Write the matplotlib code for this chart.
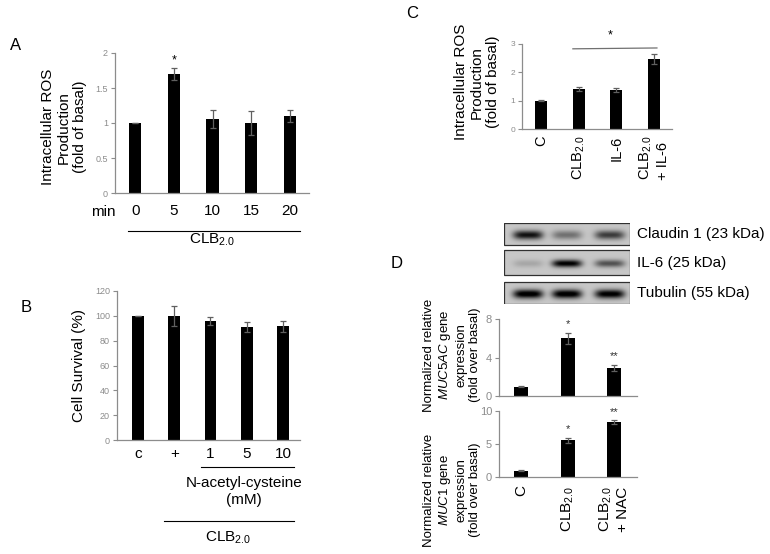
import numpy as np
import matplotlib
matplotlib.use("Agg")
import matplotlib.pyplot as plt
from matplotlib.patches import Rectangle
import matplotlib.transforms as mtrans

plt.rcParams['font.family'] = ['Liberation Sans', 'DejaVu Sans']
plt.rcParams['mathtext.fontset'] = 'custom'
plt.rcParams['mathtext.rm'] = 'Liberation Sans'
plt.rcParams['mathtext.it'] = 'Liberation Sans:italic'
plt.rcParams['mathtext.default'] = 'regular'

# ── データ ──────────────────────────────────────────────
a_labels = ['0', '5', '10', '15', '20']
a_vals = [1.0, 1.70, 1.06, 1.0, 1.10]
a_err = [0.0, 0.08, 0.13, 0.17, 0.08]

b_labels = ['c', '+', '1', '5', '10']
b_vals = [100, 100, 96, 91, 91.5]
b_err = [0, 8, 3, 4, 4.5]

c_labels = ['C', 'CLB$_{2.0}$', 'IL-6', 'CLB$_{2.0}$\n+ IL-6']
c_vals = [1.0, 1.42, 1.37, 2.47]
c_err = [0.01, 0.07, 0.07, 0.17]

d_labels = ['C', 'CLB$_{2.0}$', 'CLB$_{2.0}$\n+ NAC']
muc5ac_vals = [0.95, 6.0, 2.9]
muc5ac_err = [0.05, 0.55, 0.35]
muc5ac_sig = ['', '*', '**']
muc1_vals = [0.95, 5.55, 8.27]
muc1_err = [0.05, 0.4, 0.3]
muc1_sig = ['', '*', '**']

blot_names = ['Claudin 1 (23 kDa)', 'IL-6 (25 kDa)', 'Tubulin (55 kDa)']
blot_bands = [[0.85, 0.40, 0.65],   # Claudin 1
              [0.15, 0.95, 0.55],   # IL-6
              [1.00, 1.00, 0.97]]   # Tubulin

W, H = 770, 554
fig = plt.figure(figsize=(W / 100, H / 100), dpi=100, facecolor='white')

def px_axes(x0, y0, x1, y1):
    return fig.add_axes([x0 / W, 1 - y1 / H, (x1 - x0) / W, (y1 - y0) / H])

def ftext(x, y, s, **kw):
    fig.text(x / W, 1 - y / H, s, **kw)

GRAY = '#8c8c8c'

def style_bar_ax(ax, tick_fs):
    for s in ['top', 'right']:
        ax.spines[s].set_visible(False)
    for s in ['left', 'bottom']:
        ax.spines[s].set_color(GRAY)
        ax.spines[s].set_linewidth(0.9)
    ax.tick_params(axis='y', colors=GRAY, labelsize=tick_fs, length=3, width=0.8, pad=2)
    ax.tick_params(axis='x', length=0)

def bars(ax, vals, err, width):
    x = np.arange(len(vals))
    ax.bar(x, vals, width, color='black', zorder=2)
    ax.errorbar(x, vals, yerr=err, fmt='none', ecolor='#606060',
                elinewidth=0.9, capsize=2.5, capthick=0.9, zorder=3)
    return x

# ── Panel A ─────────────────────────────────────────────
axA = px_axes(115, 53, 309, 193)
x = bars(axA, a_vals, a_err, 0.32)
axA.set_xlim(-0.52, 4.49)
axA.set_ylim(0, 2)
axA.set_yticks([0, 0.5, 1, 1.5, 2])
axA.set_yticklabels(['0', '0.5', '1', '1.5', '2'])
style_bar_ax(axA, 6.5)
axA.set_xticks(x)
axA.set_xticklabels(a_labels, fontsize=11)
axA.tick_params(axis='x', pad=8)
axA.text(1, a_vals[1] + a_err[1] + 0.12, '*', ha='center', va='center', fontsize=9)
axA.set_ylabel('Intracellular ROS\nProduction\n(fold of basal)', fontsize=11)
axA.yaxis.set_label_coords(-0.144, 0.47)
tA = mtrans.blended_transform_factory(axA.transData, axA.transAxes)
axA.plot([-0.18, 4.26], [-0.27, -0.27], color='black', lw=0.8, transform=tA, clip_on=False)
ftext(103, 212, 'min', fontsize=11, ha='center', va='center')
ftext(212, 240, 'CLB$_{2.0}$', fontsize=11, ha='center', va='center')
ftext(16, 46, 'A', fontsize=12, ha='center', va='center')

# ── Panel B ─────────────────────────────────────────────
axB = px_axes(117, 291, 300, 440)
x = bars(axB, b_vals, b_err, 0.33)
axB.set_xlim(-0.58, 4.47)
axB.set_ylim(0, 120)
axB.set_yticks(range(0, 121, 20))
style_bar_ax(axB, 6.5)
axB.set_xticks(x)
axB.set_xticklabels(b_labels, fontsize=11)
axB.tick_params(axis='x', pad=5)
axB.set_ylabel('Cell Survival (%)', fontsize=11)
axB.yaxis.set_label_coords(-0.17, 0.5)
tB = mtrans.blended_transform_factory(axB.transData, axB.transAxes)
axB.plot([1.75, 4.3], [-0.18, -0.18], color='black', lw=0.8, transform=tB, clip_on=False)
axB.plot([0.72, 4.3], [-0.545, -0.545], color='black', lw=0.8, transform=tB, clip_on=False)
ftext(244, 483, 'N-acetyl-cysteine', fontsize=11, ha='center', va='center')
ftext(244, 500, '(mM)', fontsize=11, ha='center', va='center')
ftext(228, 538, 'CLB$_{2.0}$', fontsize=11, ha='center', va='center')
ftext(26, 308, 'B', fontsize=12, ha='center', va='center')

# ── Panel C ─────────────────────────────────────────────
axC = px_axes(522, 44, 672, 129)
x = bars(axC, c_vals, c_err, 0.32)
axC.set_xlim(-0.5, 3.48)
axC.set_ylim(0, 3)
axC.set_yticks([0, 1, 2, 3])
style_bar_ax(axC, 6)
axC.set_xticks(x)
axC.set_xticklabels(c_labels, fontsize=10.5, rotation=90, va='top', multialignment='left')
axC.tick_params(axis='x', pad=5)
axC.set_ylabel('Intracellular ROS\nProduction\n(fold of basal)', fontsize=11)
axC.yaxis.set_label_coords(-0.147, 0.55)
axC.plot([0.85, 3.08], [2.83, 2.86], color='#707070', lw=0.9, clip_on=False)
axC.text(1.85, 3.3, '*', ha='center', va='center', fontsize=9, clip_on=False)
ftext(412, 14, 'C', fontsize=12, ha='center', va='center')

# ── Panel D: Western blot ───────────────────────────────
axW = px_axes(504, 223, 630, 304)
axW.set_xlim(0, 126)
axW.set_ylim(81, 0)
axW.axis('off')
rows = [(0, 22), (27, 52), (59, 81)]
lanes = [24, 63, 106]
xx = np.linspace(0, 126, 252)
for (top, bot), inten in zip(rows, blot_bands):
    yy = np.linspace(top, bot, 60)
    X, Y = np.meshgrid(xx, yy)
    img = np.full(X.shape, 0.78)
    yc = (top + bot) / 2 + 1
    sy = 4.5 if bot - top < 24 else 3.8
    for lx, v in zip(lanes, inten):
        img -= 0.85 * v * np.exp(-((X - lx) / 15) ** 4 - ((Y - yc) / sy) ** 2)
    axW.imshow(np.clip(img, 0, 1), cmap='gray', vmin=0, vmax=1,
               extent=(0, 126, bot, top), aspect='auto', interpolation='bilinear')
    axW.add_patch(Rectangle((0, top), 126, bot - top, fill=False,
                            edgecolor='#303030', lw=0.9))
for (top, bot), name in zip(rows, blot_names):
    axW.text(133, (top + bot) / 2, name, fontsize=11, ha='left', va='center', clip_on=False)
ftext(397, 263, 'D', fontsize=12, ha='center', va='center')

# ── Panel D: MUC5AC ─────────────────────────────────────
axM5 = px_axes(499, 319, 637, 396)
x = bars(axM5, muc5ac_vals, muc5ac_err, 0.3)
for xi, v, e, s in zip(x, muc5ac_vals, muc5ac_err, muc5ac_sig):
    axM5.text(xi, v + e + 0.9, s, ha='center', va='center', fontsize=8, color='#303030')
axM5.set_xlim(-0.47, 2.49)
axM5.set_ylim(0, 8)
axM5.set_yticks([0, 4, 8])
style_bar_ax(axM5, 8)
axM5.set_xticks([])
ftext(452, 355, 'Normalized relative\n$\\mathit{MUC5AC}$ gene\nexpression\n(fold over basal)',
      fontsize=9.5, rotation=90, ha='center', va='center', multialignment='center')

# ── Panel D: MUC1 ───────────────────────────────────────
axM1 = px_axes(499, 411, 637, 477)
x = bars(axM1, muc1_vals, muc1_err, 0.3)
for xi, v, e, s in zip(x, muc1_vals, muc1_err, muc1_sig):
    axM1.text(xi, v + e + 1.3, s, ha='center', va='center', fontsize=8, color='#303030')
axM1.set_xlim(-0.47, 2.49)
axM1.set_ylim(0, 10)
axM1.set_yticks([0, 5, 10])
style_bar_ax(axM1, 8)
axM1.set_xticks(x)
axM1.set_xticklabels(d_labels, fontsize=11, rotation=90, va='top', multialignment='left')
axM1.tick_params(axis='x', pad=6)
ftext(452, 490, 'Normalized relative\n$\\mathit{MUC1}$ gene\nexpression\n(fold over basal)',
      fontsize=9.5, rotation=90, ha='center', va='center', multialignment='center')

plt.savefig('out.png', dpi=100, facecolor='white')
plt.close()
